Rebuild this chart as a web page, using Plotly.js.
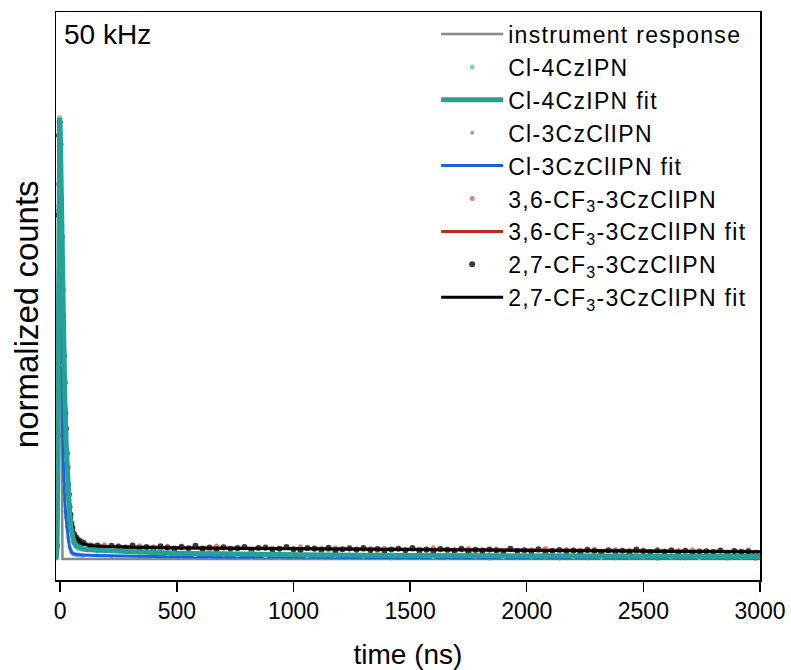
<!DOCTYPE html>
<html>
<head>
<meta charset="utf-8">
<script src="https://cdn.plot.ly/plotly-3.0.1.min.js"></script>
<style>html,body{margin:0;padding:0;background:#fff;}#chart{width:791px;height:670px;}
.legendtext{letter-spacing:1.3px;}</style>
</head>
<body>
<div id="chart"></div>
<script>
// ---- data ----
var tickVals = [0, 500, 1000, 1500, 2000, 2500, 3000];

var tIrf = [-18,-13,-11,-9,-7,-5,-3,-1,1,3,4,5,6,7,8,10,3000];
var irf  = [0,0,0.05,0.3,0.75,0.97,1.0,0.95,0.82,0.6,0.48,0.38,0.25,0.12,0.03,0,0];

var tEarly = [-14,-11,-8,-5,-2,1,4,7,10,13,16,19,22,25,28,31,34,37,40,44,48,52,56,60,65,70,76,82,88,94];
var tTailFine = [100,130,160,190,220,250,280,310,340,370,400,430,460,490,520,550,580,610,640,670,700,730,760,790,820,850,880,910,940,970,1000,1030,1060,1090,1120,1150,1180,1210,1240,1270,1300,1330,1360,1390,1420,1450,1480,1510,1540,1570,1600,1630,1660,1690,1720,1750,1780,1810,1840,1870,1900,1930,1960,1990,2020,2050,2080,2110,2140,2170,2200,2230,2260,2290,2320,2350,2380,2410,2440,2470,2500,2530,2560,2590,2620,2650,2680,2710,2740,2770,2800,2830,2860,2890,2920,2950,2980];
var tTailCoarse = [100,160,220,280,340,400,460,520,580,640,700,760,820,880,940,1000,1060,1120,1180,1240,1300,1360,1420,1480,1540,1600,1660,1720,1780,1840,1900,1960,2020,2080,2140,2200,2260,2320,2380,2440,2500,2560,2620,2680,2740,2800,2860,2920,2980];

// Cl-4CzIPN (teal)
var tealEarly = [0.03,0.27,0.79,0.97,1.0,0.95,0.81,0.72,0.60,0.53,0.44,0.385,0.32,0.275,0.225,0.192,0.153,0.132,0.102,0.084,0.061,0.052,0.039,0.037,0.029,0.030,0.024,0.026,0.022,0.024];
var tealTail = [0.0235,0.0185,0.0190,0.0145,0.0155,0.0162,0.0124,0.0137,0.0102,0.0128,
0.0113,0.0098,0.0124,0.0081,0.0107,0.0094,0.0082,0.0110,0.0079,0.0097,
0.0066,0.0085,0.0103,0.0071,0.0091,0.0059,0.0088,0.0076,0.0065,0.0093,
0.0052,0.0081,0.0060,0.0069,0.0088,0.0057,0.0076,0.0045,0.0074,0.0064,
0.0053,0.0082,0.0051,0.0070,0.0039,0.0058,0.0067,0.0047,0.0076];
var tTealFit = [-18,-14,-12,-10,-8,-6,-4,-2,0,5,10,15,20,25,30,35,40,45,50,55,60,70,80,90,100,120,150,200,300,400,500,750,1000,1250,1500,1750,2000,2250,2500,2750,3000];
var tealFit = [0,0.02,0.1,0.4,0.8,0.96,1.0,1.0,0.98,0.78,0.61,0.47,0.36,0.27,0.2,0.145,0.105,0.075,0.055,0.042,0.036,0.029,0.026,0.024,0.0225,0.021,0.020,0.0185,0.016,0.0145,0.013,0.0108,0.0093,0.0085,0.0079,0.0074,0.0069,0.0065,0.0061,0.0058,0.0055];

// Cl-3CzClIPN (blue)
var blueEarly = [0.04,0.30,0.80,0.97,0.98,0.84,0.59,0.41,0.31,0.22,0.17,0.135,0.108,0.094,0.073,0.064,0.048,0.040,0.027,0.021,0.015,0.014,0.011,0.012,0.009,0.011,0.008,0.010,0.008,0.009];
var blueTail = [0.0072,0.0086,0.0062,0.0080,0.0059,0.0039,0.0060,0.0041,0.0063,0.0037,
0.0043,0.0049,0.0024,0.0054,0.0029,0.0035,0.0042,0.0017,0.0040,0.0023,
0.0046,0.0030,0.0013,0.0036,0.0020,0.0043,0.0018,0.0026,0.0033,0.0008,
0.0040,0.0015,0.0030,0.0022,0.0005,0.0029,0.0012,0.0036,0.0011,0.0019,
0.0026,0.0002,0.0025,0.0009,0.0032,0.0016,0.0008,0.0023,-0.0001];
var tBlueFit = [-18,-14,-12,-10,-8,-6,-4,-2,0,2,4,6,8,10,12,14,17,20,24,28,32,36,40,45,50,60,80,100,150,200,300,400,500,750,1000,1500,2000,2500,3000];
var blueFit = [0,0.03,0.15,0.45,0.82,0.96,1.0,0.99,0.93,0.74,0.58,0.46,0.37,0.30,0.245,0.2,0.16,0.128,0.098,0.075,0.058,0.042,0.028,0.018,0.014,0.011,0.0095,0.0088,0.008,0.0073,0.0063,0.0055,0.005,0.0041,0.0035,0.0028,0.0022,0.0018,0.0015];

// 3,6-CF3-3CzClIPN (red)
var redEarly = [0.06,0.40,0.85,0.98,1.0,0.93,0.82,0.71,0.62,0.53,0.47,0.39,0.34,0.285,0.248,0.20,0.174,0.141,0.123,0.096,0.084,0.068,0.062,0.053,0.051,0.045,0.044,0.039,0.039,0.035];
var redTail = [0.0350,0.0330,0.0265,0.0325,0.0280,0.0305,0.0250,0.0275,0.0303,0.0252,
0.0280,0.0218,0.0287,0.0255,0.0294,0.0242,0.0271,0.0259,0.0228,0.0296,
0.0245,0.0233,0.0272,0.0250,0.0209,0.0257,0.0276,0.0224,0.0233,0.0261,
0.0210,0.0279,0.0238,0.0216,0.0245,0.0204,0.0253,0.0222,0.0260,0.0229,
0.0208,0.0237,0.0186,0.0244,0.0213,0.0252,0.0201,0.0220,0.0228,0.0187,
0.0256,0.0205,0.0234,0.0192,0.0211,0.0240,0.0169,0.0218,0.0196,0.0225,
0.0174,0.0233,0.0202,0.0180,0.0209,0.0189,0.0238,0.0167,0.0196,0.0215,
0.0174,0.0203,0.0182,0.0221,0.0150,0.0189,0.0208,0.0178,0.0197,0.0156,
0.0205,0.0164,0.0223,0.0182,0.0171,0.0190,0.0149,0.0209,0.0158,0.0177,
0.0166,0.0195,0.0144,0.0193,0.0162,0.0211,0.0150];
var tCfFit = [-18,-14,-12,-10,-8,-6,-4,-2,0,5,10,15,20,25,30,35,40,45,50,55,60,70,80,90,100,120,150,200,300,500,1000,1500,2000,2500,3000];
var redFit = [0,0.06,0.2,0.5,0.85,0.96,1.0,1.0,0.96,0.775,0.615,0.485,0.37,0.29,0.216,0.162,0.122,0.095,0.076,0.064,0.056,0.048,0.043,0.039,0.036,0.033,0.031,0.0288,0.0277,0.026,0.024,0.022,0.020,0.0185,0.017];

// 2,7-CF3-3CzClIPN (black)
var blackEarly = [0.03,0.28,0.78,0.96,0.99,0.94,0.81,0.73,0.61,0.55,0.46,0.40,0.33,0.295,0.24,0.208,0.168,0.147,0.118,0.101,0.080,0.071,0.058,0.056,0.048,0.048,0.041,0.042,0.036,0.038];
var blackTail = [0.0370,0.0290,0.0305,0.0245,0.0300,0.0275,0.0260,0.0305,0.0233,0.0272,
0.0240,0.0288,0.0257,0.0225,0.0274,0.0242,0.0301,0.0229,0.0258,0.0216,
0.0265,0.0233,0.0242,0.0270,0.0199,0.0247,0.0256,0.0214,0.0233,0.0271,
0.0220,0.0199,0.0248,0.0236,0.0205,0.0254,0.0183,0.0222,0.0240,0.0209,
0.0248,0.0197,0.0226,0.0184,0.0213,0.0232,0.0201,0.0250,0.0188,0.0217,
0.0176,0.0225,0.0204,0.0192,0.0231,0.0160,0.0209,0.0178,0.0216,0.0195,
0.0164,0.0233,0.0182,0.0200,0.0169,0.0219,0.0158,0.0187,0.0206,0.0175,
0.0194,0.0143,0.0212,0.0181,0.0160,0.0199,0.0168,0.0188,0.0147,0.0216,
0.0175,0.0154,0.0183,0.0162,0.0201,0.0150,0.0189,0.0129,0.0168,0.0177,
0.0156,0.0195,0.0134,0.0183,0.0162,0.0171,0.0140];
var blackFit = [0,0.03,0.15,0.45,0.82,0.96,0.995,1.0,0.97,0.78,0.62,0.49,0.37,0.29,0.215,0.16,0.12,0.093,0.074,0.062,0.054,0.046,0.041,0.037,0.034,0.031,0.029,0.0275,0.0265,0.025,0.023,0.021,0.019,0.0175,0.016];

var names = ['instrument response','Cl-4CzIPN','Cl-4CzIPN fit','Cl-3CzClIPN','Cl-3CzClIPN fit',
  '3,6-CF<sub>3</sub>-3CzClIPN','3,6-CF<sub>3</sub>-3CzClIPN fit','2,7-CF<sub>3</sub>-3CzClIPN','2,7-CF<sub>3</sub>-3CzClIPN fit'];

// ---- traces ----
var tFine = tEarly.concat(tTailFine);
var tCoarse = tEarly.concat(tTailCoarse);
function dots(x, y, name, color, size, rank) {
  return {x: x, y: y, name: name, type: 'scatter', mode: 'markers', legendrank: rank,
    marker: {color: color, size: size}, hoverinfo: 'skip'};
}
function line(x, y, name, color, w, rank) {
  return {x: x, y: y, name: name, type: 'scatter', mode: 'lines', legendrank: rank,
    line: {color: color, width: w}, hoverinfo: 'skip'};
}
var traces = [
  line(tIrf, irf, names[0], '#888888', 2.5, 1),
  dots(tFine, redEarly.concat(redTail), names[5], '#e0857e', 5, 6),
  line(tCfFit, redFit, names[6], '#c0281c', 3, 7),
  dots(tFine, blackEarly.concat(blackTail), names[7], '#3a3a3a', 6, 8),
  line(tCfFit, blackFit, names[8], '#000000', 3, 9),
  dots(tCoarse, blueEarly.concat(blueTail), names[3], '#7aa6f0', 4, 4),
  line(tBlueFit, blueFit, names[4], '#1464e6', 3, 5),
  dots(tCoarse, tealEarly.concat(tealTail), names[1], '#86cfca', 5, 2),
  line(tTealFit, tealFit, names[2], '#27a096', 5, 3)
];

var FONT = 'Liberation Sans, Arial, sans-serif';
var layout = {
  width: 791, height: 670,
  margin: {l: 56, r: 31, t: 12, b: 90},
  paper_bgcolor: '#ffffff', plot_bgcolor: '#ffffff',
  font: {family: FONT, color: '#000000'},
  showlegend: true,
  legend: {x: 0.54, xanchor: 'left', y: 0.999, yanchor: 'top', bgcolor: 'rgba(0,0,0,0)',
    font: {family: FONT, size: 23, color: '#000'}, itemwidth: 62, tracegroupgap: 0},
  xaxis: {range: [-18, 3000], tickvals: tickVals, ticks: 'outside', ticklen: 10, tickwidth: 1.5,
    tickcolor: '#000', showline: true, linecolor: '#000', linewidth: 1.5, mirror: true,
    showgrid: false, zeroline: false, tickfont: {family: FONT, size: 23},
    title: {text: 'time (ns)', font: {family: FONT, size: 28}, standoff: 22}},
  yaxis: {range: [-0.0476, 1.24], showticklabels: false, ticks: '', showline: true,
    linecolor: '#000', linewidth: 1.5, mirror: true, showgrid: false, zeroline: false},
  annotations: [
    {text: '50 kHz', xref: 'paper', yref: 'paper', x: 0.008, y: 0.96,
      xanchor: 'left', yanchor: 'middle', showarrow: false, font: {family: FONT, size: 28, color: '#000'}},
    {text: 'normalized counts', xref: 'paper', yref: 'paper', x: -0.0426, y: 0.468,
      xanchor: 'center', yanchor: 'middle', textangle: -90, showarrow: false,
      font: {family: FONT, size: 33, color: '#000'}}
  ],
  hovermode: false
};
Plotly.newPlot('chart', traces, layout, {displayModeBar: false, staticPlot: true});
</script>
</body>
</html>
